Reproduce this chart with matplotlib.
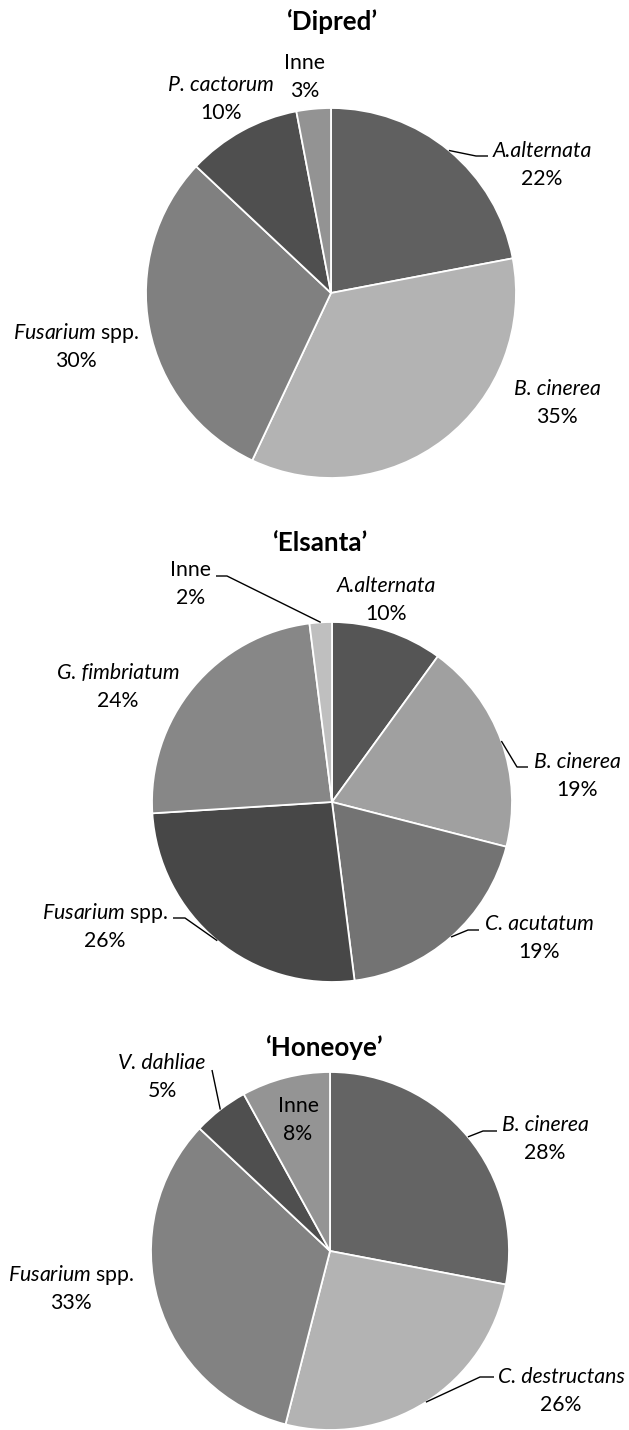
import matplotlib
matplotlib.use('Agg')
import matplotlib.pyplot as plt
import numpy as np

W, H = 629, 1430
plt.rcParams['font.family'] = ['Lato', 'DejaVu Sans']
plt.rcParams['mathtext.fontset'] = 'custom'
plt.rcParams['mathtext.it'] = 'Lato:italic'
plt.rcParams['mathtext.rm'] = 'Lato'

# ---------------- data ----------------
titles = ['\u2018Dipred\u2019', '\u2018Elsanta\u2019', '\u2018Honeoye\u2019']

dipred_labels = ['A.alternata', 'B. cinerea', 'Fusarium spp.', 'P. cactorum', 'Inne']
dipred_values = [22, 35, 30, 10, 3]

elsanta_labels = ['A.alternata', 'B. cinerea', 'C. acutatum', 'Fusarium spp.', 'G. fimbriatum', 'Inne']
elsanta_values = [10, 19, 19, 26, 24, 2]

honeoye_labels = ['B. cinerea', 'C. destructans', 'Fusarium spp.', 'V. dahliae', 'Inne']
honeoye_values = [28, 26, 33, 5, 8]

# ---------------- styles / layout (pixel coords, y from top) ----------------
dipred_colors = ['#606060', '#b3b3b3', '#808080', '#4f4f4f', '#939393']
elsanta_colors = ['#555555', '#a0a0a0', '#737373', '#474747', '#878787', '#bfbfbf']
honeoye_colors = ['#646464', '#b3b3b3', '#828282', '#4f4f4f', '#949494']

charts = [
    dict(title=titles[0], title_pos=(332, 22), center=(331, 293), radius=185,
         labels=dipred_labels, values=dipred_values, colors=dipred_colors,
         label_pos=[(542, 151), (557, 389), (76, 333), (221, 85), (305, 63)],
         leaders={0: [(476, 156), (488, 156)]}),
    dict(title=titles[1], title_pos=(320, 543), center=(332, 802), radius=180,
         labels=elsanta_labels, values=elsanta_values, colors=elsanta_colors,
         label_pos=[(386, 586), (577, 762), (539, 924), (105, 913), (118, 673), (191, 570)],
         leaders={1: [(517, 767), (528, 767)],
                  2: [(468, 930), (479, 930)],
                  3: [(185, 918), (173, 918)],
                  5: [(227, 576), (216, 576)]}),
    dict(title=titles[2], title_pos=(324, 1048), center=(330, 1251), radius=179,
         labels=honeoye_labels, values=honeoye_values, colors=honeoye_colors,
         label_pos=[(545, 1125), (561, 1377), (71, 1275), (162, 1063), (298, 1106)],
         leaders={0: [(483, 1131), (497, 1131)],
                  1: [(480, 1377), (494, 1377)],
                  3: [(212, 1070)]}),
]

LINE_GAP = 28
LABEL_TARGET_W = 127   # pixel width of "Fusarium spp." label in the reference
TITLE_TARGET_W = 91    # pixel width of the 'Dipred' title in the reference


def Y(y):
    return H - y


def fmt_name(name):
    if name.endswith(' spp.'):
        return '$\\mathit{%s}$ spp.' % name[:-5], 'normal'
    if name == 'Inne':
        return name, 'normal'
    return name, 'italic'


fig = plt.figure(figsize=(W / 100, H / 100), dpi=100)
ax = fig.add_axes([0, 0, 1, 1])
renderer = fig.canvas.get_renderer()


def fit_size(s, target, **kw):
    t = fig.text(0, 0, s, fontsize=10, **kw)
    w = t.get_window_extent(renderer=renderer).width
    t.remove()
    return 10 * target / w


FS = fit_size(fmt_name('Fusarium spp.')[0], LABEL_TARGET_W)
TFS = fit_size(titles[0], TITLE_TARGET_W, fontweight='bold')

for ch in charts:
    cx, cy = ch['center']
    r = ch['radius']
    wedges, _ = ax.pie(ch['values'], colors=ch['colors'], startangle=90,
                       counterclock=False, center=(cx, Y(cy)), radius=r,
                       wedgeprops=dict(edgecolor='white', linewidth=1.3),
                       frame=True)
    ax.text(ch['title_pos'][0], Y(ch['title_pos'][1]), ch['title'],
            ha='center', va='center', fontsize=TFS, fontweight='bold', color='black')
    for i, (name, val) in enumerate(zip(ch['labels'], ch['values'])):
        lx, ly = ch['label_pos'][i]
        txt, style = fmt_name(name)
        ax.text(lx, Y(ly), txt, ha='center', va='center', fontsize=FS,
                fontstyle=style, color='black')
        ax.text(lx, Y(ly + LINE_GAP), f'{val}%', ha='center', va='center',
                fontsize=FS, color='black')
    for i, pts in ch['leaders'].items():
        w = wedges[i]
        th = np.deg2rad((w.theta1 + w.theta2) / 2)
        ex, ey = cx + r * np.cos(th), Y(cy) + r * np.sin(th)
        xs = [ex] + [p[0] for p in pts]
        ys = [ey] + [Y(p[1]) for p in pts]
        ax.plot(xs, ys, color='black', lw=1.0, solid_capstyle='butt')

ax.set_xlim(0, W)
ax.set_ylim(0, H)
ax.set_aspect('auto')
ax.axis('off')
fig.savefig('out.png', dpi=100, facecolor='white')
